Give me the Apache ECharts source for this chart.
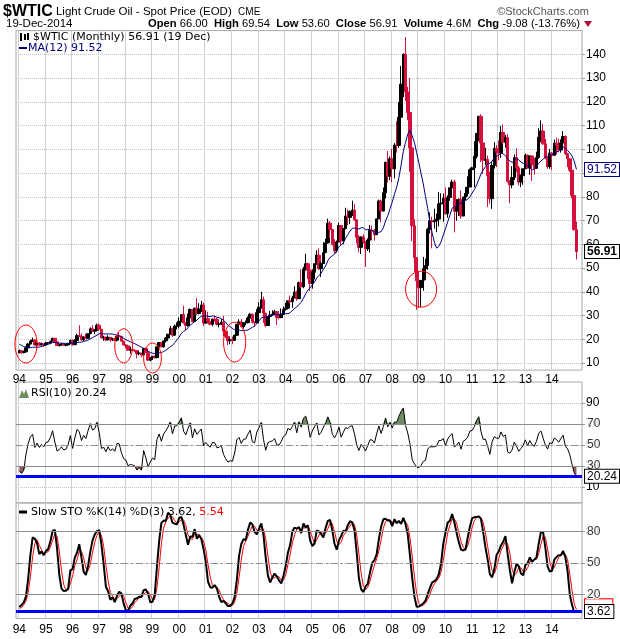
<!DOCTYPE html>
<html>
<head>
<meta charset="utf-8">
<script src="https://cdn.jsdelivr.net/npm/echarts@6/dist/echarts.min.js"></script>
<style>
html, body { margin: 0; padding: 0; background: #fff; }
#chart { width: 620px; height: 639px; }
</style>
</head>
<body>
<div id="chart"></div>
<script>
// monthly bars, Jan 1994 .. Dec 2014
var years = [1994, 1995, 1996, 1997, 1998, 1999, 2000, 2001, 2002, 2003, 2004,
    2005, 2006, 2007, 2008, 2009, 2010, 2011, 2012, 2013, 2014];

// months before Jan 1994 (Jul 1992 .. Dec 1993), only used to warm up the indicators
var priorClose = [21.8, 21.4, 21.9, 21.2, 20.2, 19.5, 20.3, 20.4, 20.3, 20.5, 19.9, 18.6, 17.7, 18.2, 17.9, 16.9, 15.0, 14.2];
var priorHigh  = [22.4, 21.9, 22.3, 22.3, 21.1, 20.1, 20.5, 20.9, 20.7, 20.9, 20.6, 19.9, 18.6, 18.5, 18.4, 18.8, 17.2, 15.0];
var priorLow   = [21.4, 20.8, 21.3, 20.5, 20.0, 18.9, 18.6, 19.9, 19.8, 19.9, 19.5, 18.5, 17.4, 17.4, 16.8, 16.6, 14.9, 13.9];

var closes = [
    15.2, 14.4, 14.7, 16.4, 18.0, 19.2, 19.7, 17.6, 18.4, 17.6, 18.1, 17.7,   // 94
    18.4, 18.5, 19.2, 20.4, 18.9, 17.4, 17.6, 18.0, 17.5, 17.6, 18.2, 19.5,   // 95
    17.7, 19.5, 21.5, 21.2, 19.8, 20.9, 20.4, 22.3, 24.4, 23.4, 23.8, 25.9,   // 96
    24.2, 20.6, 20.9, 19.7, 20.8, 19.8, 20.2, 19.6, 21.2, 21.1, 19.2, 17.6,   // 97
    17.2, 15.4, 15.6, 15.4, 15.2, 13.9, 14.2, 13.4, 16.1, 14.4, 11.2, 12.1,   // 98
    12.8, 12.3, 16.8, 18.6, 16.8, 19.3, 20.5, 22.1, 24.5, 21.7, 25.5, 25.6,   // 99
    27.6, 30.4, 26.9, 25.8, 29.0, 32.5, 27.4, 33.1, 30.8, 32.7, 34.4, 26.8,   // 00
    28.7, 27.4, 26.3, 28.5, 28.4, 26.3, 26.4, 27.2, 23.4, 21.2, 19.4, 19.8,   // 01
    19.5, 21.7, 26.3, 27.3, 25.3, 26.9, 27.0, 28.9, 30.5, 27.2, 26.9, 31.2,   // 02
    33.5, 36.6, 31.0, 25.8, 29.6, 30.2, 30.5, 31.6, 29.2, 29.1, 30.4, 32.5,   // 03
    33.1, 36.2, 35.8, 37.4, 39.9, 37.1, 43.8, 42.1, 49.6, 51.8, 49.1, 43.5,   // 04
    48.2, 51.8, 55.4, 49.7, 51.9, 56.5, 60.6, 68.9, 66.2, 59.8, 57.3, 61.0,   // 05
    67.9, 61.4, 66.6, 71.9, 71.3, 73.9, 74.4, 70.3, 62.9, 58.7, 63.1, 61.1,   // 06
    58.1, 61.8, 65.9, 65.7, 64.0, 70.7, 78.2, 74.0, 81.7, 94.5, 88.7, 96.0,   // 07
    91.8, 101.8, 101.6, 113.5, 127.4, 140.0, 124.1, 115.5, 100.6, 67.8, 54.4, 44.6, // 08
    41.7, 44.8, 49.7, 51.1, 66.3, 69.9, 69.5, 69.9, 70.6, 77.0, 77.3, 79.4,   // 09
    72.9, 79.7, 83.8, 86.2, 73.9, 75.6, 78.9, 71.9, 79.9, 81.4, 84.1, 91.4,   // 10
    92.2, 97.0, 106.7, 113.9, 102.7, 95.4, 95.7, 88.8, 79.2, 93.2, 100.4, 98.8, // 11
    98.5, 107.1, 103.0, 104.9, 86.5, 85.0, 88.1, 96.5, 92.2, 86.2, 88.9, 91.8, // 12
    97.5, 92.1, 97.2, 93.5, 92.0, 96.6, 105.1, 107.7, 102.3, 96.4, 92.7, 98.4, // 13
    97.5, 102.6, 101.6, 99.7, 102.7, 105.4, 98.2, 96.0, 91.2, 80.5, 66.2, 56.91 // 14
];
var highs = [
    15.7, 15.3, 15.2, 17.0, 18.4, 19.8, 20.7, 19.8, 18.6, 18.8, 18.6, 18.1,
    18.9, 18.8, 19.3, 20.6, 20.5, 19.1, 18.0, 18.5, 18.4, 17.9, 18.4, 19.9,
    19.9, 20.0, 22.3, 25.9, 22.4, 21.4, 22.4, 22.5, 25.0, 25.9, 24.2, 26.6,
    26.6, 24.4, 21.5, 21.0, 21.7, 20.9, 20.6, 20.6, 21.3, 23.0, 21.5, 19.3,
    18.0, 17.3, 16.9, 16.4, 15.8, 15.3, 14.9, 14.0, 16.3, 16.5, 14.5, 12.4,
    13.0, 13.2, 16.9, 18.8, 18.9, 19.4, 20.9, 22.3, 25.6, 24.9, 26.2, 27.1,
    29.2, 30.5, 34.1, 27.0, 30.8, 33.0, 32.3, 33.2, 37.2, 35.2, 36.1, 35.5,
    32.2, 31.6, 28.0, 28.6, 29.8, 29.0, 27.3, 28.5, 29.9, 23.5, 22.4, 20.5,
    21.1, 21.9, 26.3, 28.4, 28.5, 27.1, 27.9, 29.6, 31.0, 30.8, 27.5, 32.7,
    35.6, 39.99, 38.0, 31.0, 29.7, 31.9, 32.2, 32.4, 31.8, 31.8, 33.0, 33.8,
    35.3, 36.3, 38.4, 38.3, 42.3, 40.4, 44.3, 49.4, 50.5, 56.0, 52.2, 46.1,
    49.4, 52.1, 57.5, 58.3, 52.6, 60.9, 62.3, 70.8, 69.8, 66.4, 62.1, 61.6,
    69.2, 67.7, 66.8, 75.4, 74.6, 74.2, 78.4, 77.0, 70.2, 63.9, 63.3, 64.2,
    61.0, 62.5, 68.1, 67.9, 66.4, 70.7, 78.8, 78.8, 83.9, 94.8, 99.3, 97.0,
    100.1, 102.6, 111.8, 119.9, 135.1, 140.4, 147.3, 126.3, 130.0, 102.8, 70.6, 54.6,
    48.6, 44.9, 54.7, 53.9, 66.9, 73.4, 71.6, 75.0, 72.9, 82.0, 81.5, 81.4,
    83.9, 80.6, 83.8, 87.2, 87.2, 79.0, 79.3, 82.6, 80.0, 84.1, 88.6, 91.9,
    92.6, 103.4, 106.9, 114.0, 114.8, 102.9, 100.6, 97.3, 90.5, 94.7, 103.0, 101.8,
    103.7, 109.8, 110.5, 106.0, 106.4, 87.0, 92.9, 97.8, 100.4, 93.0, 89.4, 91.8,
    98.2, 97.8, 97.3, 97.2, 96.4, 99.0, 108.9, 112.2, 110.7, 104.4, 95.9, 100.1,
    98.7, 104.1, 104.9, 104.5, 104.2, 107.7, 105.9, 98.5, 95.6, 91.3, 82.2, 69.54
];
var lows = [
    14.2, 13.9, 14.0, 14.6, 16.3, 17.8, 18.9, 17.3, 16.9, 17.2, 17.3, 16.8,
    17.3, 17.7, 17.9, 19.1, 18.6, 17.3, 16.9, 17.3, 17.2, 17.0, 17.5, 17.9,
    17.3, 17.7, 18.9, 21.0, 19.3, 19.1, 20.2, 20.3, 22.3, 23.0, 22.1, 23.4,
    23.8, 20.3, 19.4, 19.2, 19.6, 18.9, 19.2, 19.2, 19.1, 20.9, 19.0, 17.5,
    16.2, 15.2, 13.9, 14.9, 14.6, 11.9, 13.2, 12.4, 13.0, 14.3, 11.0, 10.7,
    11.3, 11.8, 11.9, 16.2, 16.6, 16.5, 18.6, 19.7, 21.9, 21.0, 21.4, 24.1,
    24.6, 27.1, 26.5, 23.9, 25.3, 28.9, 27.1, 27.4, 30.3, 30.5, 31.5, 25.6,
    26.5, 27.0, 25.9, 25.5, 27.5, 25.8, 25.0, 25.9, 21.5, 20.5, 17.5, 17.9,
    17.9, 19.4, 21.3, 24.6, 25.0, 24.5, 25.9, 26.6, 28.6, 26.6, 25.2, 26.8,
    30.2, 32.9, 26.9, 25.0, 25.6, 28.5, 29.8, 30.6, 26.0, 28.4, 28.9, 30.9,
    32.0, 32.5, 35.0, 33.2, 37.4, 36.2, 37.1, 41.5, 41.5, 48.9, 45.4, 40.3,
    41.3, 45.2, 51.3, 49.2, 46.2, 51.7, 56.3, 60.2, 62.6, 59.6, 56.1, 56.5,
    61.0, 59.5, 60.0, 66.3, 68.0, 68.5, 71.9, 69.9, 60.4, 56.6, 55.9, 60.3,
    50.5, 57.2, 56.5, 61.9, 61.5, 64.0, 70.6, 69.3, 73.8, 79.3, 86.0, 87.0,
    86.1, 87.7, 98.6, 100.6, 112.2, 122.0, 120.4, 112.3, 90.5, 61.3, 48.2, 32.4,
    33.2, 33.6, 40.4, 45.0, 49.3, 64.5, 58.3, 66.6, 65.1, 67.5, 75.5, 69.5,
    72.4, 71.2, 78.3, 80.5, 65.0, 69.9, 71.9, 70.8, 72.8, 78.5, 80.1, 85.3,
    85.6, 84.1, 96.1, 103.4, 94.6, 89.6, 93.4, 75.7, 77.1, 74.9, 91.9, 92.5,
    95.4, 96.4, 102.1, 100.7, 86.0, 77.3, 83.6, 87.1, 90.5, 84.8, 84.1, 85.1,
    91.8, 92.0, 89.3, 86.7, 89.3, 91.7, 96.0, 103.0, 101.8, 95.8, 91.8, 91.8,
    91.2, 97.3, 97.8, 98.7, 98.6, 101.8, 97.6, 92.5, 90.4, 79.4, 65.7, 53.6
];

var priceTicks = [10, 20, 30, 40, 50, 60, 70, 80, 90, 100, 110, 120, 130, 140];
var rsiTicks = [10, 30, 50, 70, 90];
var stoTicks = [20, 50, 80];

// values printed in the legends / right-hand boxes
var lastClose = 56.91, lastMA = 91.52, lastRSI = 20.24, lastK = 3.62, lastD = 5.54;

// red hand-drawn circles: [month index, price, half width in months, half height in price]
var circles = [
    [3.3, 18.0, 4.3, 8.0],
    [46.7, 17.2, 4.5, 7.2],
    [59.8, 12.1, 4.5, 6.3],
    [96.7, 18.8, 5.4, 8.4],
    [181, 41.1, 6.8, 7.6]
];

var months = [];
years.forEach(function (y) {
    for (var m = 1; m <= 12; m++) months.push(y + '-' + (m < 10 ? '0' + m : m));
});

var allClose = priorClose.concat(closes);
var allHigh = priorHigh.concat(highs);
var allLow = priorLow.concat(lows);
var skip = priorClose.length;

function sma(a, n) {
    return a.map(function (v, i) {
        if (i < n - 1) return null;
        var s = 0;
        for (var j = i - n + 1; j <= i; j++) {
            if (a[j] == null) return null;
            s += a[j];
        }
        return s / n;
    });
}
function calcRSI(c, n) {
    var out = [null], gain = 0, loss = 0;
    for (var i = 1; i < c.length; i++) {
        var d = c[i] - c[i - 1];
        var g = d > 0 ? d : 0, l = d < 0 ? -d : 0;
        if (i <= n) {
            gain += g; loss += l;
            if (i === n) {
                gain /= n; loss /= n;
                out.push(100 - 100 / (1 + gain / loss));
            } else {
                out.push(null);
            }
        } else {
            gain = (gain * (n - 1) + g) / n;
            loss = (loss * (n - 1) + l) / n;
            out.push(loss === 0 ? 100 : 100 - 100 / (1 + gain / loss));
        }
    }
    return out;
}
function fastK(c, h, l, n) {
    return c.map(function (v, i) {
        if (i < n - 1) return null;
        var hh = Math.max.apply(null, h.slice(i - n + 1, i + 1));
        var ll = Math.min.apply(null, l.slice(i - n + 1, i + 1));
        return 100 * (v - ll) / (hh - ll);
    });
}

var ma12 = sma(allClose, 12).slice(skip);
var rsi = calcRSI(allClose, 10).slice(skip);
var slowK = sma(fastK(allClose, allHigh, allLow, 14), 3);
var slowD = sma(slowK, 3).slice(skip);
slowK = slowK.slice(skip);

var candles = closes.map(function (c, i) {
    var open = allClose[skip + i - 1];
    return [open, c, lows[i], highs[i]];
});

var RED = '#d4103c', NAVY = '#000080', GRID = '#cfcfcf', REF = '#8c8c8c';
var FONT = 'Liberation Sans';

function yearOnly(index) { return index >= 0 && index < months.length && index % 12 === 0; }

function xAxisFor(g, showLabel) {
    return {
        type: 'category', gridIndex: g, data: months, min: -1, max: months.length + 1,
        boundaryGap: true,
        axisLine: { show: false }, axisTick: { show: false },
        axisLabel: {
            show: showLabel, interval: yearOnly, margin: 4,
            fontFamily: FONT, fontSize: 12, color: '#000',
            formatter: function (v) { return v ? v.slice(2, 4) : ''; }
        },
        splitLine: { show: true, interval: yearOnly, lineStyle: { color: GRID, width: 1 } }
    };
}
function yAxisFor(g, min, max, ticks) {
    return {
        type: 'value', gridIndex: g, position: 'right', min: min, max: max,
        axisLine: { show: false },
        axisTick: { show: true, customValues: ticks, length: 3, lineStyle: { color: '#999' } },
        axisLabel: { customValues: ticks, margin: 4, fontFamily: FONT, fontSize: 12, color: '#000' },
        splitLine: { show: true, lineStyle: { color: '#c4c4c4', type: 'dotted' } }
    };
}
function refLine(v, type) {
    return { yAxis: v, lineStyle: { color: REF, width: 1, type: type } };
}
function valueBox(v, text, color, bold) {
    return {
        yAxis: v,
        lineStyle: { color: 'rgba(0,0,0,0)', width: 0 },
        label: {
            show: true, position: 'end', distance: 3, formatter: text,
            color: color, fontFamily: FONT, fontSize: 12, fontWeight: bold ? 'bold' : 'normal',
            backgroundColor: '#fff', borderColor: color, borderWidth: 1, padding: [1, 2, 0, 2]
        }
    };
}
var DASHDOT = [7, 3, 2, 3];

var option = {
    animation: false,
    backgroundColor: '#fff',
    grid: [
        { left: 16, width: 566, top: 30.6, height: 339.5, show: true, borderColor: '#a8a8a8', borderWidth: 1 },
        { left: 16, width: 566, top: 382, height: 120.8, show: true, borderColor: '#a8a8a8', borderWidth: 1 },
        { left: 16, width: 566, top: 503, height: 115.5, show: true, borderColor: '#a8a8a8', borderWidth: 1 }
    ],
    // bottom panel year labels are written as graphic text below (the axis drops the last one)
    xAxis: [xAxisFor(0, true), xAxisFor(1, false), xAxisFor(2, false)],
    yAxis: [
        yAxisFor(0, 7, 150, priceTicks),
        yAxisFor(1, -5, 110, rsiTicks),
        yAxisFor(2, -3, 107, stoTicks)
    ],
    series: [
        {
            name: '$WTIC', type: 'candlestick', xAxisIndex: 0, yAxisIndex: 0,
            data: candles, barWidth: 3,
            itemStyle: { color: '#000', color0: RED, borderColor: '#000', borderColor0: RED, borderWidth: 1 },
            markLine: { silent: true, symbol: 'none', data: [valueBox(lastClose, '56.91', '#000', true)] }
        },
        {
            name: 'MA(12)', type: 'line', xAxisIndex: 0, yAxisIndex: 0,
            data: ma12, symbol: 'none', lineStyle: { color: NAVY, width: 1 },
            markLine: { silent: true, symbol: 'none', data: [valueBox(lastMA, '91.52', NAVY, false)] }
        },
        {
            type: 'line', xAxisIndex: 1, yAxisIndex: 1, stack: 'over', symbol: 'none',
            data: rsi.map(function () { return 70; }), lineStyle: { width: 0 }
        },
        {
            type: 'line', xAxisIndex: 1, yAxisIndex: 1, stack: 'over', symbol: 'none',
            data: rsi.map(function (v) { return Math.max(0, v - 70); }),
            lineStyle: { width: 0 }, areaStyle: { color: '#6f8f63', opacity: 1 }
        },
        {
            type: 'line', xAxisIndex: 1, yAxisIndex: 1, stack: 'under', symbol: 'none',
            data: rsi.map(function (v) { return Math.min(v, 30); }), lineStyle: { width: 0 }
        },
        {
            type: 'line', xAxisIndex: 1, yAxisIndex: 1, stack: 'under', symbol: 'none',
            data: rsi.map(function (v) { return 30 - Math.min(v, 30); }),
            lineStyle: { width: 0 }, areaStyle: { color: '#9b5a5a', opacity: 1 }
        },
        {
            name: 'RSI(10)', type: 'line', xAxisIndex: 1, yAxisIndex: 1,
            data: rsi, symbol: 'none', lineStyle: { color: '#000', width: 1 },
            markLine: {
                silent: true, symbol: 'none',
                data: [
                    refLine(70, 'solid'), refLine(30, 'solid'), refLine(50, DASHDOT),
                    {
                        yAxis: lastRSI, lineStyle: { color: '#0000ff', width: 3, type: 'solid' },
                        label: {
                            show: true, position: 'end', distance: 3, formatter: '20.24',
                            color: '#000', fontFamily: FONT, fontSize: 12,
                            backgroundColor: '#fff', borderColor: '#000', borderWidth: 1, padding: [1, 2, 0, 2]
                        }
                    }
                ]
            }
        },
        {
            name: '%D', type: 'line', xAxisIndex: 2, yAxisIndex: 2,
            data: slowD, symbol: 'none', lineStyle: { color: '#ff0000', width: 1 },
            markLine: { silent: true, symbol: 'none', data: [valueBox(lastD + 3.5, '       ', '#ff0000', false)] }
        },
        {
            name: '%K', type: 'line', xAxisIndex: 2, yAxisIndex: 2,
            data: slowK, symbol: 'none', lineStyle: { color: '#000', width: 2 },
            markLine: {
                silent: true, symbol: 'none',
                data: [
                    refLine(80, 'solid'), refLine(20, 'solid'), refLine(50, DASHDOT),
                    {
                        yAxis: lastK, lineStyle: { color: '#0000ff', width: 3, type: 'solid' },
                        label: {
                            show: true, position: 'end', distance: 3, formatter: '3.62',
                            color: '#000', fontFamily: FONT, fontSize: 12,
                            backgroundColor: '#fff', borderColor: '#000', borderWidth: 1, padding: [1, 3, 0, 2]
                        }
                    }
                ]
            }
        }
    ]
};

var myChart = echarts.init(document.getElementById('chart'));
myChart.setOption(option);

// header, legends and the red circles
var LEG = 'DejaVu Sans';
var elements = [
    {
        type: 'text', x: 3, y: 12,
        style: {
            text: '{a|$WTIC} Light Crude Oil - Spot Price (EOD)  {c|CME}',
            fontFamily: FONT, fontSize: 11.5, fill: '#000', verticalAlign: 'middle',
            rich: {
                a: { fontFamily: FONT, fontSize: 16, fontWeight: 'bold' },
                c: { fontFamily: FONT, fontSize: 10 }
            }
        }
    },
    { type: 'text', x: 589, y: 12, style: { text: '\u00a9StockCharts.com', fontFamily: FONT, fontSize: 11, fill: '#555', align: 'right', verticalAlign: 'middle' } },
    { type: 'text', x: 6, y: 24, style: { text: '19-Dec-2014', fontFamily: FONT, fontSize: 11.5, fill: '#000', verticalAlign: 'middle' } },
    {
        type: 'text', x: 580, y: 24,
        style: {
            text: '{b|Open} 66.00  {b|High} 69.54  {b|Low} 53.60  {b|Close} 56.91  {b|Volume} 4.6M  {b|Chg} -9.08 (-13.76%)',
            fontFamily: FONT, fontSize: 11.2, fill: '#000', align: 'right', verticalAlign: 'middle',
            rich: { b: { fontFamily: FONT, fontSize: 11.2, fontWeight: 'bold' } }
        }
    },
    { type: 'polygon', shape: { points: [[584, 21], [592, 21], [588, 27]] }, style: { fill: '#b0103a' } },

    // main legend
    { type: 'rect', shape: { x: 20, y: 33, width: 2, height: 8 }, style: { fill: '#000' } },
    { type: 'rect', shape: { x: 24, y: 34, width: 2, height: 6 }, style: { fill: '#000' } },
    { type: 'rect', shape: { x: 27, y: 33, width: 2, height: 7 }, style: { fill: '#000' } },
    { type: 'text', x: 33, y: 37.5, style: { text: '$WTIC (Monthly) 56.91 (19 Dec)', fontFamily: LEG, fontSize: 11, fill: '#000', verticalAlign: 'middle' } },
    { type: 'line', shape: { x1: 19, y1: 48, x2: 27, y2: 48 }, style: { stroke: NAVY, lineWidth: 2 } },
    { type: 'text', x: 28, y: 48, style: { text: 'MA(12) 91.52', fontFamily: LEG, fontSize: 11, fill: NAVY, verticalAlign: 'middle' } },

    // RSI legend
    { type: 'polygon', shape: { points: [[19, 398], [22, 390], [24, 394], [26, 389], [29, 398]] }, style: { fill: '#6f8f63' } },
    { type: 'text', x: 31, y: 393.5, style: { text: 'RSI(10) 20.24', fontFamily: LEG, fontSize: 11, fill: '#000', verticalAlign: 'middle' } },

    // STO legend
    { type: 'line', shape: { x1: 19, y1: 512, x2: 27, y2: 512 }, style: { stroke: '#000', lineWidth: 3 } },
    {
        type: 'text', x: 31, y: 512,
        style: {
            text: 'Slow STO %K(14) %D(3) 3.62, {r|5.54}', fontFamily: LEG, fontSize: 11, fill: '#000', verticalAlign: 'middle',
            rich: { r: { fontFamily: LEG, fontSize: 11, fill: '#ff0000', color: '#ff0000' } }
        }
    }
];

// year labels under the bottom panel, placed through the bottom panel's own x axis
years.forEach(function (y, i) {
    var p = myChart.convertToPixel({ xAxisIndex: 2, yAxisIndex: 2 }, [i * 12, 0]);
    elements.push({
        type: 'text', x: p[0], y: 629.5,
        style: { text: String(y).slice(2), fontFamily: FONT, fontSize: 12, fill: '#000', align: 'center', verticalAlign: 'middle' }
    });
});

circles.forEach(function (c) {
    var p = myChart.convertToPixel({ xAxisIndex: 0, yAxisIndex: 0 }, [c[0], c[1]]);
    var q = myChart.convertToPixel({ xAxisIndex: 0, yAxisIndex: 0 }, [c[0] + c[2], c[1] + c[3]]);
    elements.push({
        type: 'ellipse',
        shape: { cx: p[0], cy: p[1], rx: Math.abs(q[0] - p[0]), ry: Math.abs(p[1] - q[1]) },
        style: { fill: 'none', stroke: '#ff0000', lineWidth: 1 },
        z: 10
    });
});

myChart.setOption({ graphic: { elements: elements } });
</script>
</body>
</html>
